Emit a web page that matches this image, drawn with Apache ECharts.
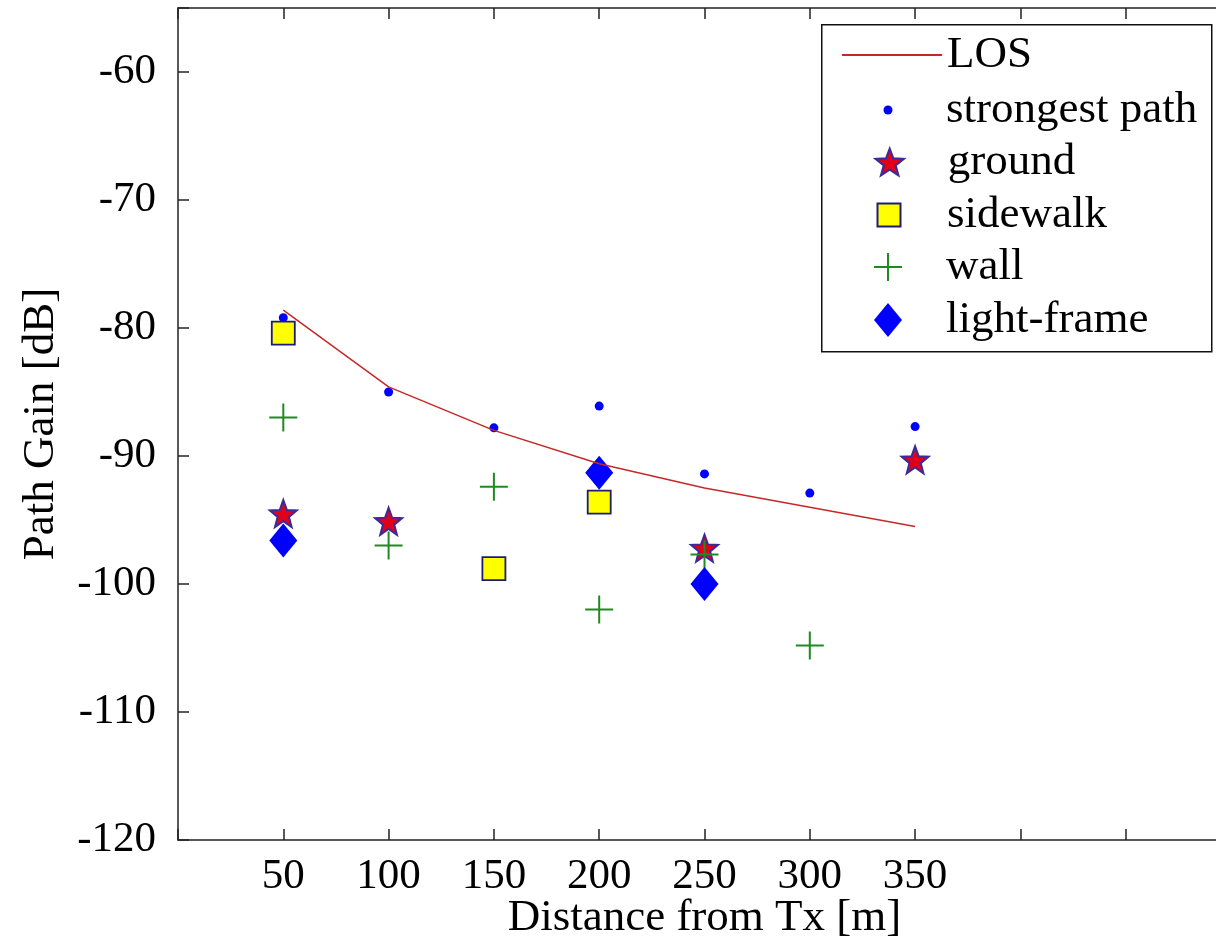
<!DOCTYPE html>
<html>
<head>
<meta charset="utf-8">
<title>Path Gain vs Distance</title>
<script src="https://cdn.jsdelivr.net/npm/echarts@6/dist/echarts.min.js"></script>
<style>
  html, body { margin: 0; padding: 0; background: #fff; }
  #chart { width: 1216px; height: 943px; }
</style>
</head>
<body>
<div id="chart"></div>
<script>
// distances in m, gains in dB
const distances = [50, 100, 150, 200, 250, 300, 350]
const losGain = [-78.6, -84.6, -88.0, -90.6, -92.5, -94.0, -95.5]
const strongestGain = [-79.2, -85.0, -87.8, -86.1, -91.4, -92.9, -87.7]
const groundX = [50, 100, 250, 350]
const groundGain = [-94.5, -95.1, -97.2, -90.3]
const sidewalkX = [50, 150, 200]
const sidewalkGain = [-80.4, -98.8, -93.6]
const wallX = [50, 100, 150, 200, 250, 300]
const wallGain = [-87.0, -97.0, -92.4, -102.0, -97.7, -104.8]
const lightX = [50, 200, 250]
const lightGain = [-96.6, -91.3, -100.0]
const xTickLabels = [50, 100, 150, 200, 250, 300, 350]
const yTickLabels = [-120, -110, -100, -90, -80, -70, -60]

const pairs = (xs, ys) => xs.map((x, i) => [x, ys[i]])

// 5-point star marker
function starPath() {
  let d = ''
  for (let i = 0; i < 10; i++) {
    const r = i % 2 === 0 ? 1 : 0.42
    const a = -Math.PI / 2 + i * Math.PI / 5
    d += (i === 0 ? 'M' : 'L') + (r * Math.cos(a)).toFixed(4) + ',' + (r * Math.sin(a)).toFixed(4)
  }
  return 'path://' + d + 'Z'
}
const squarePath = 'path://M-1,-1H1V1H-1Z'
const plusPath = 'path://M-1,-14H1V14H-1Z M-14,-1H14V1H-14Z'
const diamondPath = 'path://M0,-17L14,0L0,17L-14,0Z'

const font = 'Liberation Serif, Times New Roman, serif'

const chart = echarts.init(document.getElementById('chart'))

const axisLine = { show: true, lineStyle: { color: '#222', width: 1.5 } }
const axisTick = { show: true, inside: true, length: 11, lineStyle: { color: '#222', width: 1.5 } }

// one legend per entry so each keeps its own marker size;
// w = drawn icon width, markers centred at x = 888
const legendItems = [
  { name: 'LOS', w: 100, h: 14, cy: 55 },
  { name: 'strongest path', w: 9, h: 9, cy: 110 },
  { name: 'ground', w: 27, h: 27, cy: 162 },
  { name: 'sidewalk', w: 23, h: 23, cy: 215 },
  { name: 'wall', w: 28, h: 28, cy: 267 },
  { name: 'light-frame', w: 28, h: 34, cy: 320 },
]

const option = {
  animation: false,
  backgroundColor: '#fff',
  grid: { left: 178, right: -15, top: 8, bottom: 103, outerBoundsMode: 'none' },
  xAxis: [
    {
      type: 'value',
      min: 0,
      max: 500,
      interval: 50,
      position: 'bottom',
      name: 'Distance from Tx [m]',
      nameLocation: 'middle',
      nameGap: 56,
      nameMoveOverlap: false,
      nameTextStyle: { fontFamily: font, fontSize: 45, color: '#000' },
      axisLine: axisLine,
      axisTick: axisTick,
      splitLine: { show: false },
      axisLabel: {
        margin: 15,
        fontFamily: font,
        fontSize: 43,
        color: '#000',
        formatter: v => (xTickLabels.includes(v) ? String(v) : ''),
      },
    },
    {
      type: 'value',
      min: 0,
      max: 500,
      interval: 50,
      position: 'top',
      axisLine: axisLine,
      axisTick: axisTick,
      axisLabel: { show: false },
      splitLine: { show: false },
    },
  ],
  yAxis: {
    type: 'value',
    min: -120,
    max: -55,
    interval: 10,
    name: 'Path Gain [dB]',
    nameLocation: 'middle',
    nameGap: 114,
    nameTextStyle: { fontFamily: font, fontSize: 45, color: '#000' },
    axisLine: axisLine,
    axisTick: axisTick,
    splitLine: { show: false },
    axisLabel: {
      margin: 22,
      fontFamily: font,
      fontSize: 43,
      color: '#000',
      formatter: v => (yTickLabels.includes(v) ? String(v) : ''),
    },
  },
  legend: legendItems.map(it => {
    const isLine = it.name === 'LOS'
    return {
      data: [isLine ? { name: it.name, itemStyle: { opacity: 0 } } : it.name],
      left: isLine ? 841 : 888 - it.w / 2,
      top: it.cy - 23,
      padding: 0,
      itemWidth: isLine ? 100 : 106,
      itemHeight: it.h,
      textStyle: { fontFamily: font, fontSize: 45, lineHeight: 46, color: '#000' },
    }
  }),
  graphic: [
    {
      type: 'rect',
      left: 821,
      top: 24,
      z: 3,
      shape: { width: 390, height: 327 },
      style: { fill: '#fff', stroke: '#111', lineWidth: 1.5 },
    },
  ],
  series: [
    {
      name: 'LOS',
      type: 'line',
      symbol: 'none',
      data: pairs(distances, losGain),
      lineStyle: { color: '#c62828', width: 1.5 },
      itemStyle: { color: '#c62828' },
    },
    {
      name: 'strongest path',
      type: 'scatter',
      symbol: 'circle',
      symbolSize: 9,
      data: pairs(distances, strongestGain),
      itemStyle: { color: '#0000ff', opacity: 1 },
    },
    {
      name: 'ground',
      type: 'scatter',
      symbol: starPath(),
      symbolSize: 27,
      data: pairs(groundX, groundGain),
      itemStyle: { color: '#e0001a', borderColor: '#3b2a9a', borderWidth: 2, opacity: 1 },
    },
    {
      name: 'sidewalk',
      type: 'scatter',
      symbol: squarePath,
      symbolSize: 23,
      data: pairs(sidewalkX, sidewalkGain),
      itemStyle: { color: '#ffff00', borderColor: '#1c1c78', borderWidth: 1.8, opacity: 1 },
    },
    {
      name: 'wall',
      type: 'scatter',
      symbol: plusPath,
      symbolSize: 28,
      data: pairs(wallX, wallGain),
      itemStyle: { color: '#1f8a1f', opacity: 1 },
    },
    {
      name: 'light-frame',
      type: 'scatter',
      symbol: diamondPath,
      symbolSize: [28, 34],
      data: pairs(lightX, lightGain),
      itemStyle: { color: '#0000ff', opacity: 1 },
    },
  ],
}

chart.setOption(option)
</script>
</body>
</html>
